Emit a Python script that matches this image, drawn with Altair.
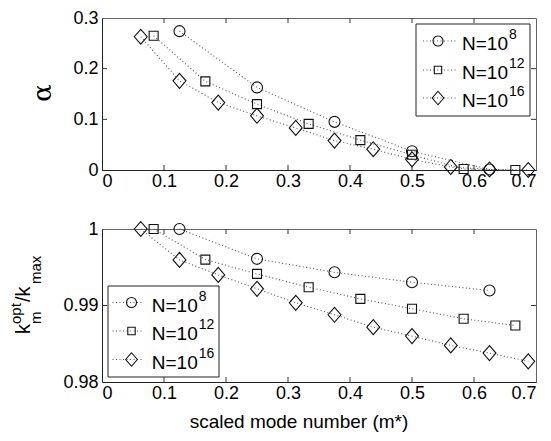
import altair as alt
import pandas as pd

# ---- data ----
series = ["N=1e8", "N=1e12", "N=1e16"]
sup_labels = ["8", "12", "16"]

m8 = [0.125, 0.25, 0.375, 0.5, 0.625]
m12 = [0.0833, 0.1667, 0.25, 0.3333, 0.4167, 0.5, 0.5833, 0.6667]
m16 = [0.0625, 0.125, 0.1875, 0.25, 0.3125, 0.375, 0.4375, 0.5, 0.5625, 0.625, 0.6875]

alpha8 = [0.274, 0.163, 0.095, 0.037, 0.001]
alpha12 = [0.265, 0.175, 0.130, 0.091, 0.059, 0.030, 0.002, 0.0]
alpha16 = [0.263, 0.176, 0.133, 0.107, 0.083, 0.058, 0.041, 0.021, 0.006, 0.001, 0.0]

k8 = [1.0, 0.9961, 0.99434, 0.99304, 0.99196]
k12 = [1.0, 0.9960, 0.99413, 0.99239, 0.99087, 0.98957, 0.98826, 0.98739]
k16 = [1.0, 0.99596, 0.9940, 0.99218, 0.99035, 0.98879, 0.98717, 0.9860, 0.98478, 0.98378, 0.9827]

x_ticks = [0, 0.1, 0.2, 0.3, 0.4, 0.5, 0.6, 0.7]
alpha_ticks = [0, 0.1, 0.2, 0.3]
k_ticks = [0.98, 0.99, 1.0]

def frame(ms, vs):
    rows = []
    for s, mm, vv in zip(series, ms, vs):
        for a, b in zip(mm, vv):
            rows.append({"series": s, "m": a, "v": b})
    return pd.DataFrame(rows)

df_alpha = frame([m8, m12, m16], [alpha8, alpha12, alpha16])
df_k = frame([m8, m12, m16], [k8, k12, k16])

FONT = "Liberation Sans"
W, H1, H2 = 434, 152, 153
DIAMOND = "M0,-1.1L0.95,0L0,1.1L-0.95,0Z"
shapes = ["circle", "square", DIAMOND]
shape_scale = alt.Scale(domain=series, range=shapes)
size_scale = alt.Scale(type="ordinal", domain=series, range=[121, 81, 185])
legend_sizes = [100, 55, 150]
one = pd.DataFrame({"a": [0]})


def panel(df, ydom, yticks, height, legend_box, rows, marker_x, line_x, text_x):
    xs = alt.Scale(domain=[0, 0.7], nice=False, zero=False)
    ys = alt.Scale(domain=ydom, nice=False, zero=False)
    xaxis = alt.Axis(values=x_ticks, format="~g", ticks=False, grid=False,
                     labelPadding=2, title=None)
    yaxis = alt.Axis(values=yticks, format="~g", ticks=False, grid=False,
                     labelPadding=4, title=None)
    base = alt.Chart(df).encode(
        x=alt.X("m:Q", scale=xs, axis=xaxis),
        y=alt.Y("v:Q", scale=ys, axis=yaxis),
    )
    lines = base.mark_line(strokeDash=[1, 2.5], color="#555", strokeWidth=1.1).encode(
        detail="series:N", order="m:Q")
    pts = base.mark_point(filled=False, color="#111", strokeWidth=1.1, opacity=1).encode(
        shape=alt.Shape("series:N", scale=shape_scale, legend=None),
        size=alt.Size("series:N", scale=size_scale, legend=None),
    )
    layers = [lines, pts]
    # inward ticks
    xt = pd.DataFrame({"m": x_ticks[1:-1]})
    yt = pd.DataFrame({"v": yticks[1:-1]})
    for y0, y1 in [(0, 5), (height - 5, height)]:
        layers.append(alt.Chart(xt).mark_rule(color="#333").encode(
            x=alt.X("m:Q", scale=xs, axis=xaxis), y=alt.value(y0), y2=alt.value(y1)))
    for x0, x1 in [(0, 5), (W - 5, W)]:
        layers.append(alt.Chart(yt).mark_rule(color="#333").encode(
            y=alt.Y("v:Q", scale=ys, axis=yaxis), x=alt.value(x0), x2=alt.value(x1)))
    # legend
    bx0, bx1, by0, by1 = legend_box
    layers.append(alt.Chart(one).mark_rect(fill="white", stroke="#222", strokeWidth=1).encode(
        x=alt.value(bx0), x2=alt.value(bx1), y=alt.value(by0), y2=alt.value(by1)))
    for shp, lsz, sup, ry in zip(shapes, legend_sizes, sup_labels, rows):
        layers.append(alt.Chart(one).mark_rule(color="#555", strokeDash=[1, 2.5], strokeWidth=1.1).encode(
            x=alt.value(line_x[0]), x2=alt.value(line_x[1]), y=alt.value(ry)))
        layers.append(alt.Chart(one).mark_point(
            filled=False, color="#111", strokeWidth=1.1, opacity=1, shape=shp, size=lsz).encode(
            x=alt.value(marker_x), y=alt.value(ry)))
        layers.append(alt.Chart(one).mark_text(text="N=10", align="right", baseline="alphabetic",
                                               font=FONT, fontSize=19, color="black").encode(
            x=alt.value(text_x), y=alt.value(ry + 9)))
        layers.append(alt.Chart(one).mark_text(text=sup, align="left", baseline="alphabetic",
                                               font=FONT, fontSize=14, color="black").encode(
            x=alt.value(text_x + 1), y=alt.value(ry - 2)))
    return layers


top_layers = panel(df_alpha, [0, 0.3], alpha_ticks, H1,
                   (314, 428, 6, 98), [23, 52, 80], 336, (321, 355), 406)
top_layers.append(alt.Chart(one).mark_text(text="α", align="center", baseline="alphabetic",
                                           angle=270, font="DejaVu Serif", fontSize=26,
                                           color="black").encode(
    x=alt.value(-51), y=alt.value(75)))
top = alt.layer(*top_layers).properties(width=W, height=H1)

bot_layers = panel(df_k, [0.98, 1.0], k_ticks, H2,
                   (6, 117, 57, 148), [73.5, 102, 130.5], 29.5, (10.5, 42), 95.7)
# y title k_m^opt / k_max built from pieces (rotated)
BX = -72
pieces = [
    ("k", 105, BX, 20),
    ("m", 95, BX + 11, 15),
    ("opt", 95, BX - 9, 15),
    ("/k", 73, BX, 20),
    ("max", 55, BX + 11, 15),
]
for txt, yy, xx, fs in pieces:
    bot_layers.append(alt.Chart(one).mark_text(text=txt, align="left", baseline="alphabetic",
                                               angle=270, font=FONT, fontSize=fs,
                                               color="black").encode(
        x=alt.value(xx), y=alt.value(yy)))
bot_layers.append(alt.Chart(one).mark_text(text="scaled mode number (m*)", align="center",
                                           baseline="alphabetic", font=FONT, fontSize=19,
                                           color="black").encode(
    x=alt.value(197), y=alt.value(199)))
bottom = alt.layer(*bot_layers).properties(width=W, height=H2)

chart = alt.vconcat(top, bottom, spacing=59, bounds="flush").properties(
    padding={"left": 0, "top": 0, "right": 5, "bottom": 2}
).configure_view(stroke="#666", strokeWidth=1).configure_axis(
    labelFont=FONT, labelFontSize=18, labelColor="black",
    domainColor="#222", domainWidth=1,
)

chart.save("out.html", embed_options={"renderer": "svg", "actions": False})
